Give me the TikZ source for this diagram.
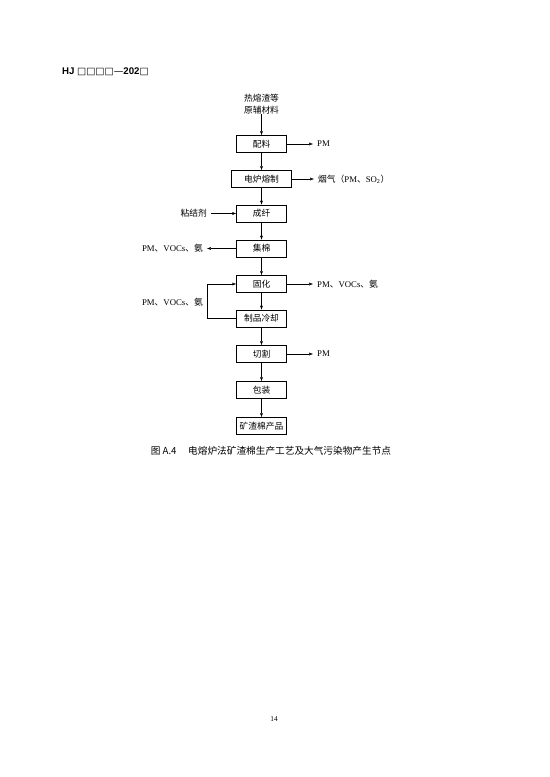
\documentclass[tikz,border=0pt]{standalone}
\usepackage{fontspec}
\setmainfont{Liberation Serif}
\newfontfamily\cjk{Noto Sans CJK SC}
\newfontfamily\hdfont{Liberation Sans}
\newfontfamily\symfont{DejaVu Sans}
\usetikzlibrary{arrows.meta}
\newcommand\cn[1]{{\cjk #1}}

\begin{document}
\begin{tikzpicture}[x=0.3818mm,y=-0.3818mm,
  box/.style={draw,line width=0.35pt,minimum width=19.1mm,minimum height=6.6mm,inner sep=0pt,
    font=\cjk\fontsize{9.5}{11}\selectfont},
  lbl/.style={inner sep=0pt,font=\fontsize{9.5}{11}\selectfont},
  flow/.style={line width=0.35pt,-{Latex[length=1.5mm,width=1.1mm]}}]
  \useasboundingbox (0,0) rectangle (550,777);
  \node[anchor=west,inner sep=0pt,font=\fontsize{10.5}{12}\selectfont] (hdr) at (62,72)
    {{\hdfont\bfseries HJ }{\symfont □□□□—}{\hdfont\bfseries 202}{\symfont □}};
  % process chain
  \node[lbl,align=center,font=\cjk\fontsize{9.5}{12.5}\selectfont] (src) at (261.5,104) {热熔渣等\\原辅材料};
  \node[box] (mix) at (261.5,144) {配料};
  \node[box,minimum width=22.9mm] (melt) at (261.5,179) {电炉熔制};
  \node[box] (fib) at (261.5,213.5) {成纤};
  \node[box] (col) at (261.5,248.5) {集棉};
  \node[box] (cure) at (261.5,284) {固化};
  \node[box] (cool) at (261.5,318.5) {制品冷却};
  \node[box] (cut) at (261.5,354) {切割};
  \node[box] (pack) at (261.5,390) {包装};
  \node[box] (prod) at (261.5,426) {矿渣棉产品};
  \draw[flow] (src) -- (mix);
  \foreach \a/\b in {mix/melt,melt/fib,fib/col,col/cure,cure/cool,cool/cut,cut/pack,pack/prod}
    \draw[flow] (\a) -- (\b);
  % inputs and emissions
  \node[lbl,anchor=west] (pm1) at (317,144) {PM};
  \draw[flow] (mix.east) -- ([xshift=-1.5mm]mix.east -| pm1.west);
  \node[lbl,anchor=west] (gas) at (318,179) {\cn{烟气（}PM\cn{、}SO\textsubscript{2}\cn{）}};
  \draw[flow] (melt.east) -- ([xshift=-1.5mm]melt.east -| gas.west);
  \node[lbl,anchor=east,font=\cjk\fontsize{9.5}{11}\selectfont] (bind) at (207,213.5) {粘结剂};
  \draw[flow] ([xshift=1.5mm]bind.east) -- (fib.west);
  \node[lbl,anchor=east] (em1) at (203,248.5) {PM\cn{、}VOCs\cn{、氨}};
  \draw[flow] (col.west) -- ([xshift=1.5mm]col.west -| em1.east);
  \node[lbl,anchor=west] (em2) at (317,284) {PM\cn{、}VOCs\cn{、氨}};
  \draw[flow] (cure.east) -- ([xshift=-1.5mm]cure.east -| em2.west);
  \coordinate (bk) at (207,300);
  \draw[flow] (cool.west) -- (cool.west -| bk) |- (cure.west);
  \node[lbl,anchor=east] (em3) at (203,302) {PM\cn{、}VOCs\cn{、氨}};
  \node[lbl,anchor=west] (pm2) at (317,354) {PM};
  \draw[flow] (cut.east) -- ([xshift=-1.5mm]cut.east -| pm2.west);
  % caption and page number
  \node[font=\cjk\fontsize{10.5}{12}\selectfont] (cap) at (271,451)
    {图 A.4\hspace{1.2em}电熔炉法矿渣棉生产工艺及大气污染物产生节点};
  \node[font=\fontsize{8}{10}\selectfont] (pg) at (274,719) {14};
\end{tikzpicture}
\end{document}
